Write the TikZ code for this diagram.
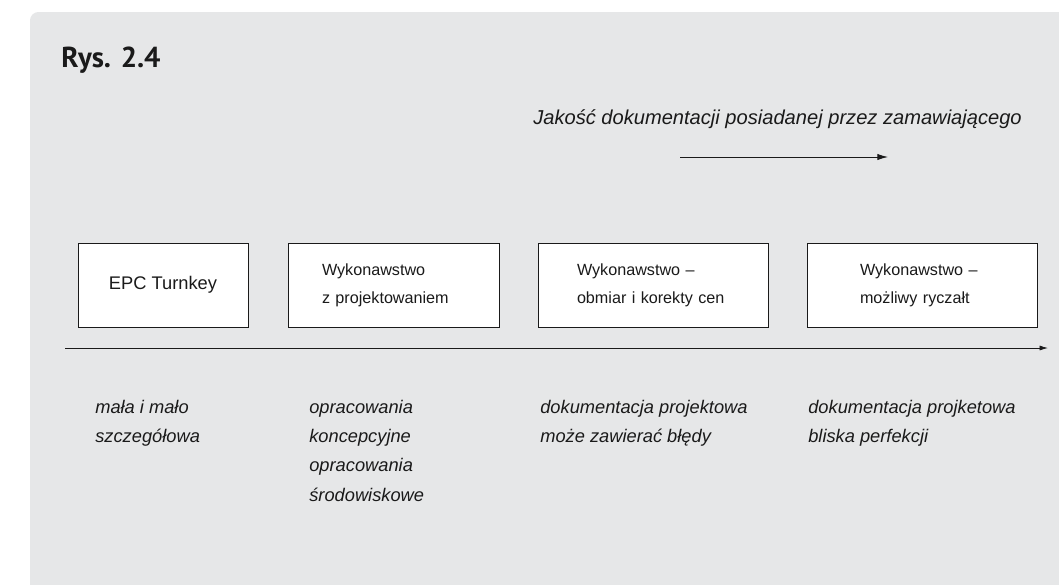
\documentclass[tikz,border=0pt]{standalone}
\usepackage{fontspec}
\setmainfont{Liberation Sans}
\newfontfamily\titlefont{PT Sans}
\usetikzlibrary{arrows.meta}
\definecolor{panelgray}{HTML}{E6E7E8}
\definecolor{inkgray}{HTML}{1A1A1A}

\begin{document}
\begin{tikzpicture}[x=0.025cm, y=-0.025cm, every node/.style={inner sep=0pt, text=inkgray}]
  \def\pu{0.025cm}
  \def\LS{29.35}% line step of the remarks, in px
  \tikzset{
    panel/.style={fill=panelgray},
    firm/.style={draw=inkgray, line width=0.6pt, fill=white, minimum height=84*\pu, align=left,
      font=\fontsize{11.5}{20}\selectfont},
    remark/.style={anchor=base west, align=left, font=\fontsize{13}{20.8}\selectfont\itshape},
    axisarrow/.style={draw=inkgray, line width=0.6pt, -{Latex[length=6pt, width=3.6pt]}},
  }
  \useasboundingbox (0,0) rectangle (1059,585);
  %% grey panel, only its top-left corner is visible as rounded
  \fill[panel] (30,585) [rounded corners=6] -- (30,12) [sharp corners] -- (1059,12) -- (1059,585) -- cycle;
  \node[anchor=base west, font=\titlefont\fontsize{20.5}{24}\selectfont\bfseries] (title) at (61,67) {Rys. 2.4};
  %% quality of the owner's documentation
  \node[anchor=base west, font=\fontsize{14.3}{18}\selectfont\itshape] (quality) at (533,124) {Jakość dokumentacji posiadanej przez zamawiającego};
  \coordinate (qL) at (680,157); \coordinate (qR) at (888,157);
  \draw[axisarrow, -{Latex[length=7.5pt, width=4.4pt]}] (qL) -- (qR);
  %% contract forms
  \node[firm, minimum width=170*\pu, font=\fontsize{13}{20}\selectfont] (epc) at (163,285) {EPC Turnkey};
  \node[firm, inner xsep=34*\pu, text width=143*\pu] (design) at (393.5,285) {Wykonawstwo\\z projektowaniem};
  \node[firm, inner xsep=39*\pu, text width=152*\pu] (remeasure) at (653,285) {Wykonawstwo --\\obmiar i korekty cen};
  \node[firm, inner xsep=53*\pu, text width=124*\pu] (lumpsum) at (922,285) {Wykonawstwo --\\możliwy ryczałt};
  %% axis
  \coordinate (axisL) at (65,348); \coordinate (axisR) at (1048,348);
  \draw[axisarrow] (axisL) -- (axisR);
  %% documentation at each stage (base = last line)
  \node[remark] (docA) at (95,413+\LS) {mała i mało\\szczegółowa};
  \node[remark] (docB) at (309,413+3*\LS) {opracowania\\koncepcyjne\\opracowania\\środowiskowe};
  \node[remark] (docC) at (540,413+\LS) {dokumentacja projektowa\\może zawierać błędy};
  \node[remark] (docD) at (808,413+\LS) {dokumentacja projketowa\\bliska perfekcji};
\end{tikzpicture}
\end{document}
